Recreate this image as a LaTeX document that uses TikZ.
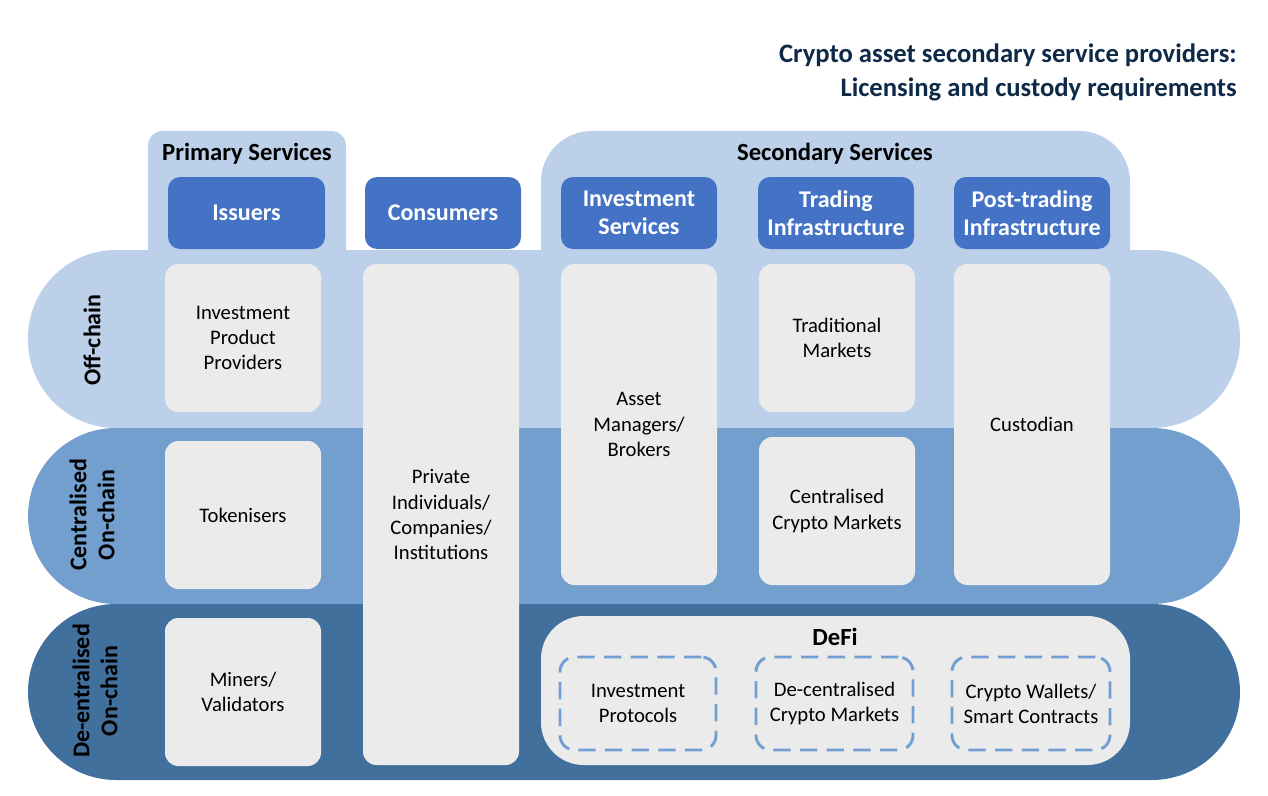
\documentclass[tikz,border=0pt]{standalone}
\usepackage{fontspec}
\setmainfont{Carlito}
\definecolor{bandA}{HTML}{BDD0E9}
\definecolor{bandB}{HTML}{739FCE}
\definecolor{bandC}{HTML}{42709C}
\definecolor{hdrblue}{HTML}{4472C4}
\definecolor{boxgray}{HTML}{EBEBEB}
\definecolor{dashblue}{HTML}{729FD2}
\definecolor{titlenavy}{HTML}{0E2A47}
\begin{document}
\begin{tikzpicture}[x=0.75pt,y=-0.75pt,
  frame/.style n args={4}{minimum width={(#3-#1)*0.75pt}, minimum height={(#4-#2)*0.75pt}, at={({(#1+#3)/2},{(#2+#4)/2})}, anchor=center, inner sep=0pt},
  band/.style={inner sep=0pt, rounded corners=66pt},
  graybox/.style={fill=boxgray, rounded corners=10pt, inner sep=0pt, align=center, text=black, font=\fontsize{15.5}{18.8}\selectfont},
  hdrbox/.style={fill=hdrblue, rounded corners=9pt, inner sep=0pt, align=center, text=white, font=\bfseries\fontsize{18}{21}\selectfont},
  dashbox/.style={draw=dashblue, line width=2.2pt, dash pattern=on 13pt off 7pt, rounded corners=11pt, inner sep=0pt, align=center, text=black, font=\fontsize{15.5}{18.8}\selectfont},
  hdrtext/.style={font=\bfseries\fontsize{18.5}{22}\selectfont, text=black, inner sep=0pt},
  sidelabel/.style={rotate=90, align=center, font=\bfseries\fontsize{18}{21}\selectfont, text=black, inner sep=0pt}
]
\useasboundingbox (0,0) rectangle (1268,796);

% title
\node[anchor=north east, align=right, inner sep=0pt, text=titlenavy, font=\bfseries\fontsize{20}{24.8}\selectfont] (title) at (1237,44)
  {Crypto asset secondary service providers:\\Licensing and custody requirements};

% background group boxes
\node[fill=bandA, rounded corners=11pt, frame={148}{131}{346}{290}] (primarybg) {};
\node[fill=bandA, rounded corners=38pt, frame={541}{131}{1130}{300}] (secondarybg) {};

% bands
\node[band, fill=bandA, frame={28}{250}{1240}{428}] (offchain) {};
\node[band, fill=bandB, frame={28}{428}{1240}{604}] (central) {};
\node[band, fill=bandC, frame={28}{604}{1240}{780}] (decentral) {};

% group headers
\node[hdrtext] (primaryhdr) at (247,154) {Primary Services};
\node[hdrtext] (secondaryhdr) at (835,154) {Secondary Services};

% header boxes
\node[hdrbox, frame={168}{177}{325}{249}] (issuers) {Issuers};
\node[hdrbox, frame={365}{177}{521}{249}] (consumers) {Consumers};
\node[hdrbox, frame={561}{177}{717}{249}] (invserv) {Investment\\Services};
\node[hdrbox, frame={758}{177}{914}{249}] (trading) {Trading\\Infrastructure};
\node[hdrbox, frame={954}{177}{1110}{249}] (posttrading) {Post-trading\\Infrastructure};

% side labels
\node[sidelabel] (lbloff) at (92,340) {Off-chain};
\node[sidelabel] (lblcen) at (92,515) {Centralised\\On-chain};
\node[sidelabel] (lbldec) at (95,691) {De-entralised\\On-chain};

% gray boxes
\node[graybox, frame={165}{264}{321}{412}] (ipp) {Investment\\Product\\Providers};
\node[graybox, frame={363}{264}{519}{765}] (private) {Private\\Individuals/\\Companies/\\Institutions};
\node[graybox, frame={561}{264}{717}{585}] (asset) {Asset\\Managers/\\Brokers};
\node[graybox, frame={759}{264}{915}{412}] (tradmk) {Traditional\\Markets};
\node[graybox, frame={954}{264}{1110}{585}] (custodian) {Custodian};
\node[graybox, frame={165}{441}{321}{589}] (tokenisers) {Tokenisers};
\node[graybox, frame={759}{437}{915}{585}] (ccm) {Centralised\\Crypto Markets};
\node[graybox, frame={165}{618}{321}{766}] (miners) {Miners/\\Validators};

% DeFi
\node[fill=boxgray, rounded corners=32pt, frame={541}{616}{1130}{765}] (defi) {};
\node[hdrtext] (defilbl) at (835,637) {DeFi};
\node[dashbox, frame={560}{657}{716}{750}] (invprot) {Investment\\Protocols};
\node[dashbox, frame={756}{657}{913}{750}] (dcm) {De-centralised\\Crypto Markets};
\node[dashbox, frame={952}{657}{1110}{750}] (wallets) {Crypto Wallets/\\Smart Contracts};
\end{tikzpicture}
\end{document}
